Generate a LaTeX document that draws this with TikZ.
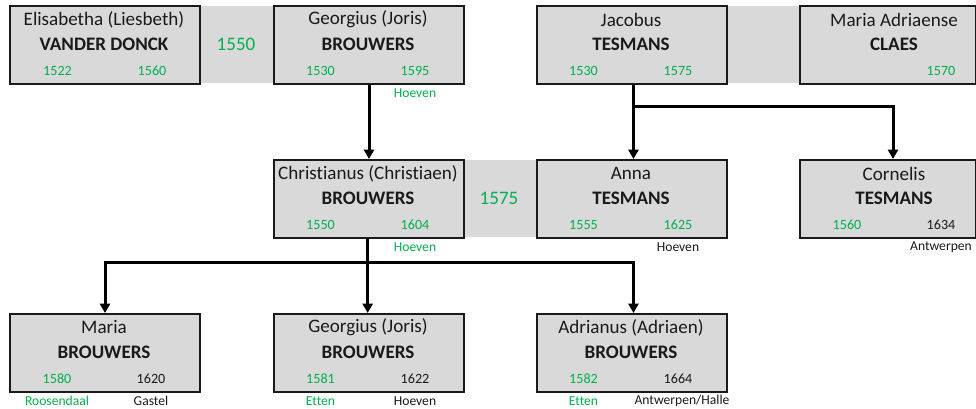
\documentclass[tikz,border=0pt]{standalone}
\usepackage{fontspec}
\setmainfont{Carlito}[Ligatures=NoCommon]
\usetikzlibrary{arrows.meta}
\definecolor{boxgray}{HTML}{D9D9D9}
\definecolor{xlgreen}{HTML}{00B050}
\definecolor{ink}{HTML}{1A1A1A}
\newcommand\pbx[6][]{%
  \node[pbox,#1] (#2) at (#3,#4) {};
  \node[fname] (#2-f) at ([shift={(95,14.5)}]#2.north west) {#5};
  \node[sname] (#2-s) at ([shift={(95,39.5)}]#2.north west) {#6};
}
\begin{document}
\begin{tikzpicture}[x=0.75pt,y=-0.75pt,
  pbox/.style={draw=ink, line width=1.5pt, fill=boxgray, minimum width=142.5pt,
    minimum height=58.5pt, inner sep=0pt, anchor=north west},
  gapbox/.style={fill=boxgray, minimum width=55.5pt, minimum height=57.75pt,
    inner sep=0pt, text=xlgreen, font=\fontsize{14.3}{16}\selectfont},
  fname/.style={inner sep=0pt, text=ink, font=\fontsize{14.3}{16}\selectfont},
  sname/.style={inner sep=0pt, text=ink, font=\bfseries\fontsize{14.3}{16}\selectfont},
  yr/.style={inner sep=0pt, text=xlgreen, font=\fontsize{10.6}{12}\selectfont},
  yrb/.style={yr, text=ink},
  plc/.style={inner sep=0pt, text=xlgreen, font=\fontsize{10.2}{12}\selectfont},
  plcb/.style={plc, text=ink},
  conn/.style={draw=black, line width=2.25pt, -{Triangle[length=7pt,width=7.5pt]}}
]
\useasboundingbox (0,0) rectangle (976,409);
% marriage gaps
\node[gapbox] (m1) at (236,44.5) {1550};
\node[gapbox] (m2) at (762,44.5) {};
\node[gapbox] (m3) at (499,198.5) {1575};
% row 1
\pbx{eli}{9}{5}{Elisabetha (Liesbeth)}{VANDER DONCK}
\node[yr] (eli-b) at ([shift={(48.5,66)}]eli.north west) {1522};
\node[yr] (eli-d) at ([shift={(143,66)}]eli.north west) {1560};
\pbx{geo}{273}{5}{Georgius (Joris)}{BROUWERS}
\node[yr] (geo-b) at ([shift={(47.5,66)}]geo.north west) {1530};
\node[yr] (geo-d) at ([shift={(142,66)}]geo.north west) {1595};
\node[plc] (geo-p) at ([shift={(142,88)}]geo.north west) {Hoeven};
\pbx{jac}{536}{5}{Jacobus}{TESMANS}
\node[yr] (jac-b) at ([shift={(47.5,66)}]jac.north west) {1530};
\node[yr] (jac-d) at ([shift={(142,66)}]jac.north west) {1575};
\pbx[minimum width=132pt]{mar}{799}{5}{Maria Adriaense}{CLAES}
\node[yr] (mar-d) at ([shift={(142,66)}]mar.north west) {1570};
% row 2
\pbx{chr}{273}{159}{Christianus (Christiaen)}{BROUWERS}
\node[yr] (chr-b) at ([shift={(47.5,66)}]chr.north west) {1550};
\node[yr] (chr-d) at ([shift={(142,66)}]chr.north west) {1604};
\node[plc] (chr-p) at ([shift={(142,88)}]chr.north west) {Hoeven};
\pbx{ann}{536}{159}{Anna}{TESMANS}
\node[yr] (ann-b) at ([shift={(47.5,66)}]ann.north west) {1555};
\node[yr] (ann-d) at ([shift={(142,66)}]ann.north west) {1625};
\node[plcb] (ann-p) at ([shift={(142,88)}]ann.north west) {Hoeven};
\pbx[minimum width=132pt]{cor}{799}{159}{Cornelis}{TESMANS}
\node[yr] (cor-b) at ([shift={(48,66)}]cor.north west) {1560};
\node[yrb] (cor-d) at ([shift={(142,66)}]cor.north west) {1634};
\node[plcb] (cor-p) at ([shift={(142,88)}]cor.north west) {Antwerpen};
% row 3
\pbx{mab}{9}{313}{Maria}{BROUWERS}
\node[yr] (mab-b) at ([shift={(48,66)}]mab.north west) {1580};
\node[yrb] (mab-d) at ([shift={(142,66)}]mab.north west) {1620};
\node[plc] (mab-p) at ([shift={(48,88)}]mab.north west) {Roosendaal};
\node[plcb] (mab-q) at ([shift={(142,88)}]mab.north west) {Gastel};
\pbx{gej}{273}{313}{Georgius (Joris)}{BROUWERS}
\node[yr] (gej-b) at ([shift={(47.5,66)}]gej.north west) {1581};
\node[yrb] (gej-d) at ([shift={(142,66)}]gej.north west) {1622};
\node[plc] (gej-p) at ([shift={(47.5,88)}]gej.north west) {Etten};
\node[plcb] (gej-q) at ([shift={(142,88)}]gej.north west) {Hoeven};
\pbx{adr}{536}{313}{Adrianus (Adriaen)}{BROUWERS}
\node[yr] (adr-b) at ([shift={(47.5,66)}]adr.north west) {1582};
\node[yrb] (adr-d) at ([shift={(142,66)}]adr.north west) {1664};
\node[plc] (adr-p) at ([shift={(47.5,88)}]adr.north west) {Etten};
\node[plcb] (adr-q) at ([shift={(146,88)}]adr.north west) {Antwerpen/Halle};
% connectors
\coordinate (jm) at ([xshift=1.1pt]jac.south |- 0,107);
\coordinate (cortop) at (893,159);
\coordinate (cm) at ([xshift=-1pt]chr.south |- 0,263);
\draw[conn] (geo.south) -- (chr.north);
\draw[conn] (jm |- jac.south) -- (jm) -| (cortop);
\draw[conn] (jm) -- (jm |- ann.north);
\draw[conn] (cm |- chr.south) -- (cm) -- (cm |- gej.north);
\draw[conn] (cm) -| (mab.north);
\draw[conn] (cm) -| ([xshift=1.1pt]adr.north);
\end{tikzpicture}
\end{document}
